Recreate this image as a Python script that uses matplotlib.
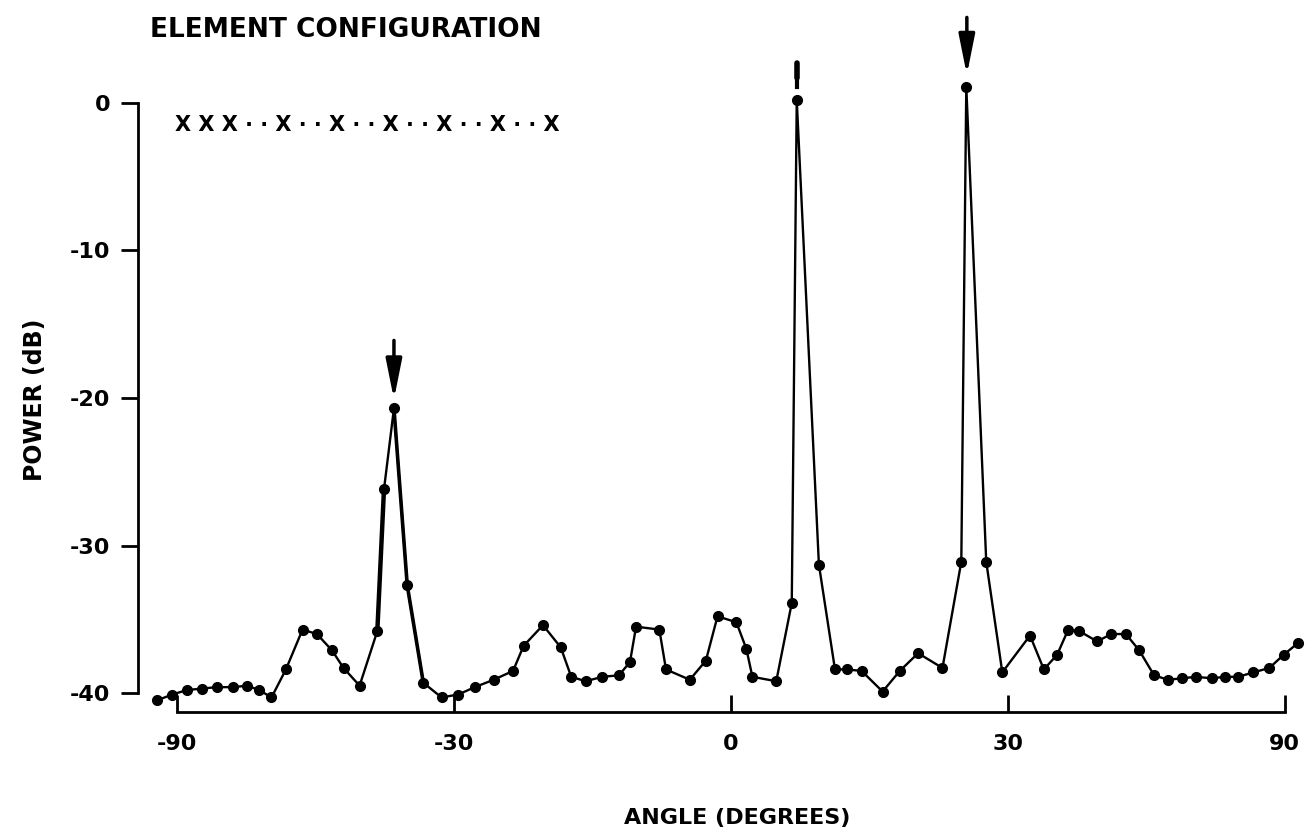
import numpy as np
import matplotlib
matplotlib.use("Agg")
import matplotlib.pyplot as plt

# 1) Data (x is the direction sine, sin(angle); y is power in dB)
# ===================================================================
sin_angle = [
    -1.036, -1.008, -0.982, -0.955, -0.928, -0.898, -0.873, -0.851, -0.829, -0.803,
    -0.773, -0.747, -0.720, -0.699, -0.670, -0.638, -0.626, -0.608, -0.584, -0.555,
    -0.522, -0.492, -0.462, -0.428, -0.393, -0.374, -0.339, -0.307, -0.288, -0.262,
    -0.232, -0.202, -0.182, -0.171, -0.129, -0.117, -0.074, -0.045, -0.024, 0.010,
    0.028, 0.039, 0.082, 0.110, 0.119, 0.159, 0.188, 0.209, 0.236, 0.274,
    0.305, 0.338, 0.382, 0.416, 0.425, 0.461, 0.490, 0.540, 0.565, 0.589,
    0.609, 0.629, 0.661, 0.687, 0.713, 0.737, 0.764, 0.789, 0.815, 0.839,
    0.868, 0.892, 0.916, 0.943, 0.972, 0.998, 1.024,
]
power_db = [
    -40.5, -40.1, -39.8, -39.7, -39.6, -39.6, -39.5, -39.8, -40.3, -38.4,
    -35.7, -36.0, -37.1, -38.3, -39.5, -35.8, -26.2, -20.7, -32.7, -39.3,
    -40.3, -40.1, -39.6, -39.1, -38.5, -36.8, -35.4, -36.9, -38.9, -39.2,
    -38.9, -38.8, -37.9, -35.5, -35.7, -38.4, -39.1, -37.8, -34.8, -35.2,
    -37.0, -38.9, -39.2, -33.9, 0.2, -31.3, -38.4, -38.4, -38.5, -39.9,
    -38.5, -37.3, -38.3, -31.1, 1.1, -31.1, -38.6, -36.1, -38.4, -37.4,
    -35.7, -35.8, -36.5, -36.0, -36.0, -37.1, -38.8, -39.1, -39.0, -38.9,
    -39.0, -38.9, -38.9, -38.6, -38.3, -37.4, -36.6,
]

angle_ticks = [-90, -30, 0, 30, 90]
angle_labels = ["-90", "-30", "0", "30", "90"]
power_ticks = [0, -10, -20, -30, -40]
power_labels = ["0", "-10", "-20", "-30", "-40"]

# arrows marking the source directions: (sin angle, y start, y end)
arrows = [(-0.608, -16.1, -20.1), (0.426, 5.8, 1.9)]

# 2) Plot
# ===================================================================
plt.rcParams["font.family"] = ["DejaVu Sans"]
plt.rcParams["font.weight"] = "bold"

fig = plt.figure(figsize=(13.14, 8.33), dpi=100)
ax = fig.add_axes([0.105, 0.145, 0.8897, 0.7668])

ax.plot(sin_angle, power_db, color="black", lw=1.7, marker="o", ms=7,
        markerfacecolor="black", markeredgecolor="black")
# the hand-drawn strokes around the -37 degree peak are heavier
ax.plot(sin_angle[15:17], power_db[15:17], color="black", lw=3.2)
ax.plot(sin_angle[17:20], power_db[17:20], color="black", lw=2.6)

ax.set_xlim(-1.07, 1.04)
ax.set_ylim(-41.3, 2)

ax.spines["top"].set_visible(False)
ax.spines["right"].set_visible(False)
ax.spines["left"].set_bounds(-40, 0)
ax.spines["bottom"].set_bounds(-1, 1)
for s in ("left", "bottom"):
    ax.spines[s].set_linewidth(2)

ax.set_xticks(np.sin(np.radians(angle_ticks)))
ax.set_xticklabels(angle_labels, fontsize=16, fontweight="bold")
ax.set_yticks(power_ticks)
ax.set_yticklabels(power_labels, fontsize=16, fontweight="bold")
ax.tick_params(axis="x", direction="in", length=12, width=2, pad=16)
ax.tick_params(axis="y", direction="out", length=12, width=2, pad=8)

for x, y0, y1 in arrows:
    ax.annotate("", xy=(x, y1), xytext=(x, y0), annotation_clip=False,
                arrowprops=dict(arrowstyle="-|>,head_length=1.1,head_width=0.22",
                                mutation_scale=22, lw=2.5, color="black",
                                shrinkA=0, shrinkB=0))

# short "!" mark above the 7 degree peak
ax.plot([0.119, 0.119], [2.7, 1.7], color="black", lw=4, clip_on=False,
        solid_capstyle="round")
ax.plot([0.119, 0.119], [1.45, 1.05], color="black", lw=3, clip_on=False)

fig.text(150 / 1314, 1 - 30 / 833, "ELEMENT CONFIGURATION", fontsize=19,
         fontweight="bold", ha="left", va="center")
fig.text(175 / 1314, 1 - 125 / 833,
         "X X X \u00b7 \u00b7 X \u00b7 \u00b7 X \u00b7 \u00b7 X \u00b7 \u00b7 X \u00b7 \u00b7 X \u00b7 \u00b7 X",
         fontsize=15, fontweight="bold", ha="left", va="center")
fig.text(737 / 1314, 1 - 818 / 833, "ANGLE (DEGREES)", fontsize=16,
         fontweight="bold", ha="center", va="center")
fig.text(35 / 1314, 1 - 400 / 833, "POWER (dB)", fontsize=17,
         fontweight="bold", ha="center", va="center", rotation=90)

fig.savefig("out.png", dpi=100)
